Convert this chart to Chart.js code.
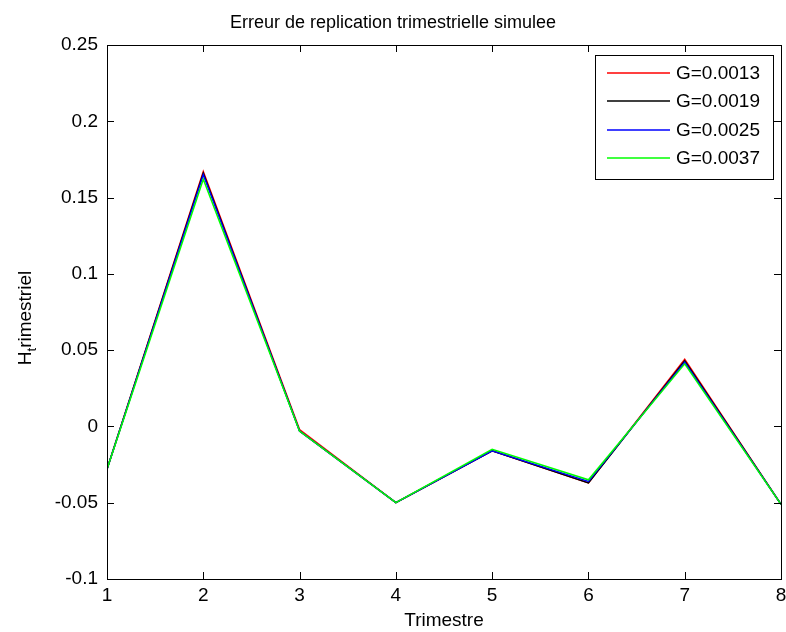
<!DOCTYPE html>
<html>
<head>
<meta charset="utf-8">
<script src="https://cdn.jsdelivr.net/npm/chart.js@4.4.1/dist/chart.umd.min.js"></script>
<style>
  html, body { margin: 0; padding: 0; background: #fff; }
  #wrap { width: 786px; height: 632px; }
</style>
</head>
<body>
<div id="wrap"><canvas id="myChart" width="786" height="632"></canvas></div>
<script>
// trimestres 1..8
var trimestres = [1, 2, 3, 4, 5, 6, 7, 8];
var labels = ['G=0.0013', 'G=0.0019', 'G=0.0025', 'G=0.0037'];
var couleurs = ['#ff0000', '#000000', '#0000ff', '#00ff00'];

var g0013 = [-0.028, 0.167, -0.002, -0.050, -0.016, -0.037, 0.044, -0.051];
var g0019 = [-0.028, 0.166, -0.003, -0.050, -0.016, -0.037, 0.043, -0.051];
var g0025 = [-0.028, 0.165, -0.003, -0.050, -0.016, -0.036, 0.042, -0.051];
var g0037 = [-0.028, 0.162, -0.003, -0.050, -0.015, -0.035, 0.041, -0.051];
var series = [g0013, g0019, g0025, g0037];

var yTicks = [-0.1, -0.05, 0, 0.05, 0.1, 0.15, 0.2, 0.25];

var police = "'Liberation Sans', Arial, sans-serif";

// boite, graduations interieures, legende et titre Y a la MATLAB
var matlabAxes = {
  id: 'matlabAxes',
  afterDraw: function(chart) {
    var ctx = chart.ctx;
    var a = chart.chartArea;
    var sx = chart.scales.x, sy = chart.scales.y;
    ctx.save();
    ctx.strokeStyle = '#000';
    ctx.lineWidth = 1;
    // graduations
    ctx.beginPath();
    trimestres.forEach(function(v) {
      var px = Math.round(sx.getPixelForValue(v)) + 0.5;
      ctx.moveTo(px, a.bottom); ctx.lineTo(px, a.bottom - 7);
      ctx.moveTo(px, a.top); ctx.lineTo(px, a.top + 7);
    });
    yTicks.forEach(function(v) {
      var py = Math.round(sy.getPixelForValue(v)) + 0.5;
      ctx.moveTo(a.left, py); ctx.lineTo(a.left + 7, py);
      ctx.moveTo(a.right, py); ctx.lineTo(a.right - 7, py);
    });
    ctx.stroke();
    // boite
    ctx.strokeRect(Math.round(a.left) + 0.5, Math.round(a.top) + 0.5,
                   Math.round(a.right - a.left), Math.round(a.bottom - a.top));

    // legende
    var lx = 595, ly = 55, lw = 178, lh = 124;
    ctx.fillStyle = '#fff';
    ctx.fillRect(lx, ly, lw, lh);
    ctx.strokeRect(lx + 0.5, ly + 0.5, lw, lh);
    ctx.font = '19px ' + police;
    ctx.textBaseline = 'middle';
    ctx.textAlign = 'left';
    chart.data.datasets.forEach(function(ds, i) {
      var ry = Math.round(73 + i * 28.3);
      ctx.strokeStyle = ds.borderColor;
      ctx.lineWidth = 1.5;
      ctx.beginPath();
      ctx.moveTo(607, ry); ctx.lineTo(670, ry);
      ctx.stroke();
      ctx.fillStyle = '#000';
      ctx.fillText(ds.label, 676, ry + 1);
    });

    // titre Y : H_trimestriel (t en indice)
    ctx.translate(31, (a.top + a.bottom) / 2 + 6);
    ctx.rotate(-Math.PI / 2);
    ctx.fillStyle = '#000';
    ctx.textBaseline = 'alphabetic';
    ctx.font = '19px ' + police;
    var wH = ctx.measureText('H').width;
    ctx.font = '13px ' + police;
    var wt = ctx.measureText('t').width;
    ctx.font = '19px ' + police;
    var wr = ctx.measureText('rimestriel').width;
    var x0 = -(wH + wt + wr) / 2;
    ctx.fillText('H', x0, 0);
    ctx.font = '13px ' + police;
    ctx.fillText('t', x0 + wH, 5);
    ctx.font = '19px ' + police;
    ctx.fillText('rimestriel', x0 + wH + wt, 0);
    ctx.restore();
  }
};

var ctx = document.getElementById('myChart').getContext('2d');
var chart = new Chart(ctx, {
  type: 'line',
  data: {
    datasets: series.map(function(s, i) {
      return {
        label: labels[i],
        data: trimestres.map(function(t, j) { return { x: t, y: s[j] }; }),
        borderColor: couleurs[i],
        backgroundColor: couleurs[i],
        borderWidth: 1.5,
        pointRadius: 0,
        tension: 0,
        fill: false,
        order: series.length - i
      };
    })
  },
  options: {
    responsive: false,
    animation: false,
    layout: { padding: { left: 0, right: 0, top: 0, bottom: 0 } },
    plugins: {
      legend: { display: false },
      tooltip: { enabled: false },
      title: {
        display: true,
        text: 'Erreur de replication trimestrielle simulee',
        color: '#000',
        font: { family: police, size: 18, weight: 'normal', lineHeight: 1.2 },
        padding: { top: 12, bottom: 11.4 }
      }
    },
    scales: {
      x: {
        type: 'linear',
        min: 1, max: 8,
        afterFit: function(s) { s.height = 53; s.paddingRight = 5; s.paddingLeft = 0; },
        grid: { display: false, drawTicks: false },
        border: { display: false },
        ticks: {
          stepSize: 1, color: '#000', padding: 5, maxRotation: 0,
          font: { family: police, size: 19 }
        },
        title: {
          display: true, text: 'Trimestre', color: '#000',
          font: { family: police, size: 19, lineHeight: 1.2 },
          padding: 0
        }
      },
      y: {
        min: -0.1, max: 0.25,
        afterFit: function(s) { s.width = 107; },
        afterBuildTicks: function(s) { s.ticks = yTicks.map(function(v) { return { value: v }; }); },
        grid: { display: false, drawTicks: false },
        border: { display: false },
        ticks: {
          color: '#000', padding: 9,
          font: { family: police, size: 19 },
          callback: function(v) { return String(parseFloat(v.toFixed(2))); }
        }
      }
    }
  },
  plugins: [matlabAxes]
});
</script>
</body>
</html>
